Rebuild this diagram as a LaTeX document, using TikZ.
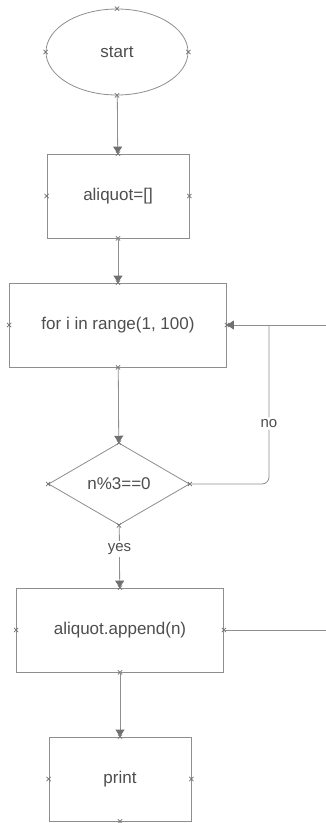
\documentclass[tikz,border=0pt]{standalone}
\usepackage{fontspec}
\setmainfont{Liberation Sans}
\usetikzlibrary{shapes.geometric,shapes.misc,arrows.meta}
\definecolor{linegray}{HTML}{8E8E8E}
\definecolor{textgray}{HTML}{4E4E4E}
\definecolor{tipgray}{HTML}{707070}
\begin{document}
\begin{tikzpicture}[
  x=1pt, y=-1pt,
  every node/.style={font=\fontsize{17}{20}\selectfont, text=textgray},
  shapeline/.style={draw=linegray, line width=0.8pt, fill=white, inner sep=0pt},
  terminal/.style={shapeline, ellipse, minimum width=142pt, minimum height=86pt},
  procbox/.style={shapeline, rectangle, minimum height=84pt},
  decision/.style={shapeline, diamond, minimum width=141pt, minimum height=82pt, aspect=1.72},
  xmark/.style={cross out, draw=tipgray, line width=0.7pt, minimum size=3.5pt, inner sep=0pt},
  wire/.style={draw=linegray, line width=0.8pt},
  flow/.style={wire, -{Triangle[length=7pt, width=9pt, fill=tipgray, color=tipgray]}},
  edgelabel/.style={fill=white, inner sep=2pt, font=\fontsize{15}{18}\selectfont}
]
\useasboundingbox (0,0) rectangle (326,823);
\clip (0,0) rectangle (326,823);

% flowchart nodes
\node[terminal] (start) at (117,52) {start};
\node[procbox, minimum width=142pt] (init) at (118,196) {aliquot=[]};
\node[procbox, minimum width=217pt] (loop) at (118,325) {for i in range(1, 100)};
\node[decision] (cond) at (119,484) {n\%3==0};
\node[procbox, minimum width=207pt] (app) at (120,630) {aliquot.append(n)};
\node[procbox, minimum width=142pt] (out) at (120,779) {print};

% connection-point markers on every side
\foreach \n in {start,init,loop,cond,app,out}
  \foreach \a in {north,south,east,west}
    \node[xmark] at (\n.\a) {};

% loop-back turning points
\coordinate (noturn) at (269,325);
\coordinate (backin) at (340,325);
\coordinate (backout) at (340,630);

% main flow
\draw[flow] (start) -- (init);
\draw[flow] (init) -- (loop);
\draw[flow] (loop) -- (cond);
\draw[flow] (cond) -- node[edgelabel, pos=0.38] {yes} (app);
\draw[flow] (app) -- (out);

% "no" branch back to the loop head
\draw[wire, rounded corners=7pt] (cond.east) -| node[edgelabel, pos=0.69] {no} (noturn);
\draw[flow] (backin) -- (loop.east);
\draw[wire] (app.east) -- (backout);
\end{tikzpicture}
\end{document}
